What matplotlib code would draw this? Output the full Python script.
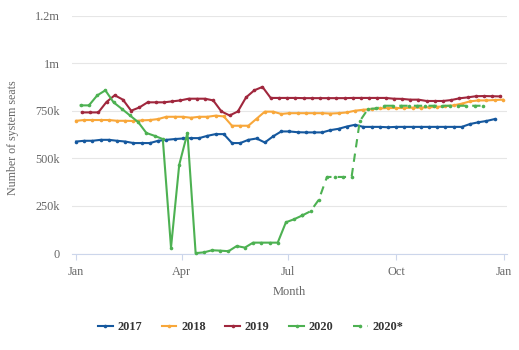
import matplotlib
matplotlib.use("Agg")
import matplotlib.pyplot as plt
import pandas as pd
import numpy as np

# ---- data (weekly number of system seats) ----
start_2017 = "2017-01-01"
seats_2017 = [588, 592, 592, 597, 597, 592, 588, 580, 580, 580, 592, 597, 601, 604,
              606, 606, 618, 627, 627, 580, 580, 597, 604, 583, 615, 641, 641, 637,
              636, 636, 636, 648, 655, 667, 676, 665, 665, 665, 663, 665, 665, 665,
              665, 665, 665, 665, 665, 665, 680, 689, 696, 706]

start_2018 = "2018-01-01"
seats_2018 = [697, 701, 701, 701, 701, 697, 697, 696, 699, 701, 706, 718, 718, 718,
              713, 718, 718, 724, 720, 671, 671, 671, 708, 745, 745, 733, 737, 737,
              737, 737, 737, 735, 737, 741, 750, 755, 758, 762, 764, 764, 764, 766,
              766, 768, 770, 774, 778, 787, 799, 804, 804, 806, 808]

start_2019 = "2019-01-06"
seats_2019 = [741, 741, 741, 796, 831, 808, 750, 767, 794, 794, 794, 799, 804, 813,
              813, 813, 804, 746, 725, 746, 820, 857, 875, 817, 817, 817, 817, 816,
              816, 816, 816, 816, 816, 817, 817, 817, 817, 817, 813, 812, 808, 808,
              801, 801, 801, 806, 815, 820, 826, 827, 826, 825]

start_2020 = "2020-01-05"
seats_2020 = [778, 778, 830, 857, 794, 760, 725, 690, 633, 618, 601, 31, 466, 633,
              2, 6, 17, 15, 12, 39, 31, 57, 57, 57, 57, 164, 180, 200]

start_2020s = "2020-07-12"
seats_2020s = [200, 222, 282, 402, 402, 402, 402, 695, 759, 762, 776, 776, 776, 776,
               776, 776, 776, 776, 776, 776, 776, 776, 776]

series_names = ["2017", "2018", "2019", "2020", "2020*"]
colors = ["#15589e", "#f8a73a", "#a0273d", "#4db152", "#4db152"]

yticks = [0, 250000, 500000, 750000, 1000000, 1250000]
ytick_labels = ["0", "250k", "500k", "750k", "1m", "1.2m"]
xtick_days = [0, 90, 181, 273, 365]
xtick_labels = ["Jan", "Apr", "Jul", "Oct", "Jan"]


def day_positions(start, n):
    d = pd.date_range(start, periods=n, freq="7D")
    jan1 = pd.Timestamp(year=d[0].year, month=1, day=1)
    return np.array([(x - jan1).days for x in d], dtype=float)


plt.rcParams["font.family"] = ["Liberation Serif", "DejaVu Serif"]

fig = plt.figure(figsize=(5.19, 3.5), dpi=100)
ax = fig.add_axes([71.7 / 519, 1 - 253.5 / 350, (506.7 - 71.7) / 519, (253.5 - 15.5) / 350])

data = [(start_2017, seats_2017, "-"), (start_2018, seats_2018, "-"),
        (start_2019, seats_2019, "-"), (start_2020, seats_2020, "-"),
        (start_2020s, seats_2020s, (0, (4, 3)))]

handles = []
for (start, vals, ls), name, c in zip(data, series_names, colors):
    x = day_positions(start, len(vals))
    y = np.array(vals) * 1000
    h, = ax.plot(x, y, color=c, lw=1.5, ls=ls, marker="o", ms=2.6,
                 markeredgewidth=0, label=name, clip_on=False, zorder=3)
    handles.append(h)

ax.set_xlim(-3.7, 367.3)
ax.set_ylim(0, 1250000)
ax.set_yticks(yticks)
ax.set_yticklabels(ytick_labels)
ax.set_xticks(xtick_days)
ax.set_xticklabels(xtick_labels)

ax.grid(axis="y", color="#e6e6e6", lw=0.8, zorder=0)
ax.set_axisbelow(True)
for s in ["top", "right", "left"]:
    ax.spines[s].set_visible(False)
ax.spines["bottom"].set_color("#ccd6eb")
ax.spines["bottom"].set_linewidth(0.8)

ax.tick_params(axis="y", length=0, pad=8.5, labelsize=8.8, labelcolor="#666666")
ax.tick_params(axis="x", length=4, width=0.8, color="#ccd6eb", direction="out",
               pad=5, labelsize=8.8, labelcolor="#666666")

ax.set_xlabel("Month", fontsize=9, color="#666666", labelpad=6)
ax.set_ylabel("Number of system seats", fontsize=8.6, color="#666666")
ax.yaxis.set_label_coords(-(71.7 - 19.0) / (506.7 - 71.7), (253.5 - 138) / (253.5 - 15.5))

leg = fig.legend(handles=handles, loc="center", bbox_to_anchor=(0.483, 1 - 327.3 / 350),
                 ncol=5, frameon=False, handlelength=1.2, handletextpad=0.4,
                 columnspacing=1.6, prop={"weight": "bold", "size": 8.8})
for t in leg.get_texts():
    t.set_color("#333333")

fig.savefig("out.png", dpi=100, facecolor="white")
